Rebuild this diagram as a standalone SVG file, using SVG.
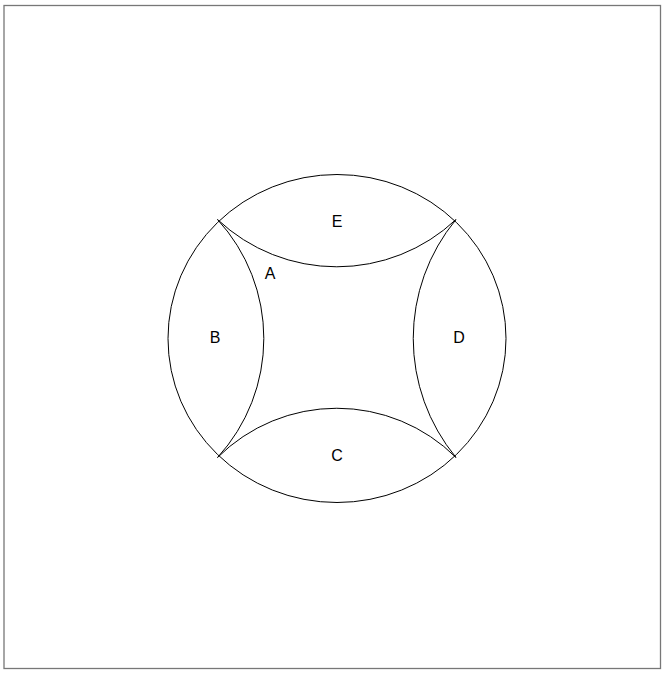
<svg xmlns="http://www.w3.org/2000/svg" width="665" height="673" viewBox="0 0 665 673">
<style>
.ln{fill:none;stroke:#000;stroke-width:1}
.lb{font-family:"Liberation Sans",Arial,sans-serif;font-size:16px;fill:#000;text-anchor:middle}
</style>
<rect x="0" y="0" width="665" height="673" fill="#fff"/>
<rect x="4" y="5.5" width="656.5" height="663" fill="none" stroke="#777" stroke-width="1.3"/>
<g id="outer">
<ellipse class="ln" cx="337" cy="338.5" rx="169" ry="164"/>
</g>
<g id="E">
<path class="ln" d="M217.5,219.5 A174,174 0 0 0 456,219.5"/>
<text class="lb" x="337" y="226.7">E</text>
</g>
<g id="C">
<path class="ln" d="M217.5,457.5 A169,169 0 0 1 456,457.5"/>
<text class="lb" x="337" y="460.7">C</text>
</g>
<g id="B">
<path class="ln" d="M217.5,219.5 A176,176 0 0 1 217.5,457.5"/>
<text class="lb" x="215" y="343.4">B</text>
</g>
<g id="D">
<path class="ln" d="M456,219.5 A187,187 0 0 0 456,457.5"/>
<text class="lb" x="459" y="343.4">D</text>
</g>
<g id="A">
<text class="lb" x="270" y="279">A</text>
</g>
</svg>
